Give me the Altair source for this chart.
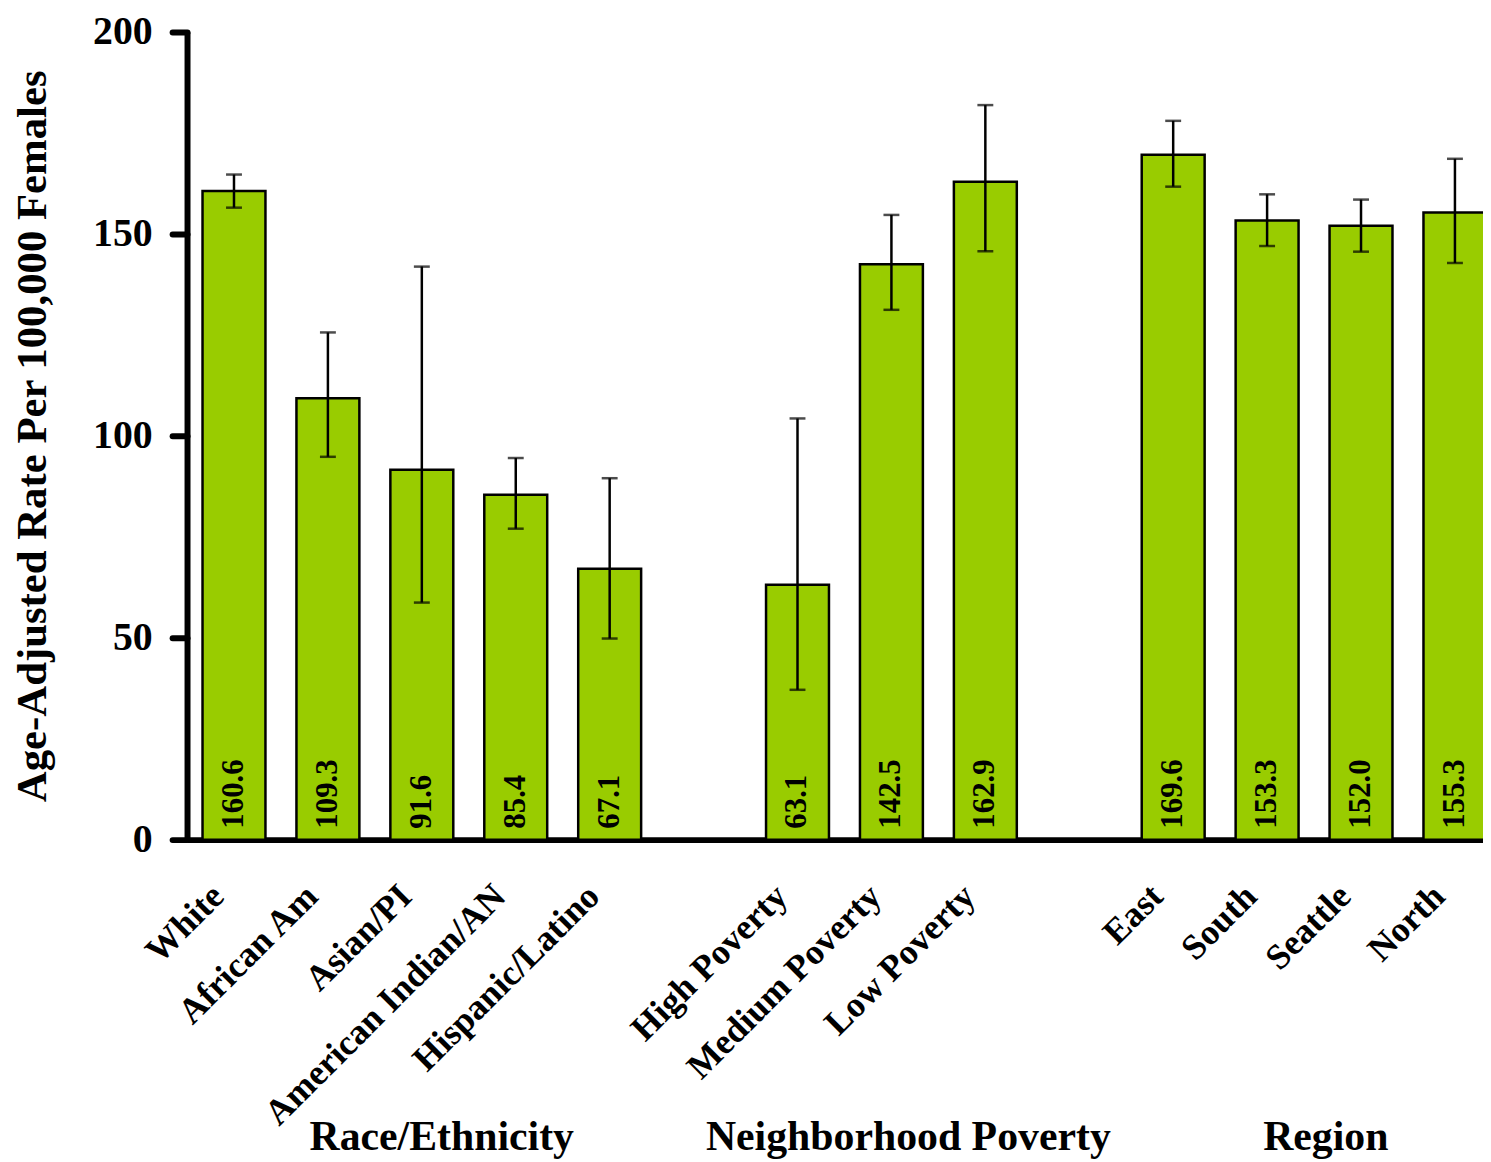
import altair as alt
import pandas as pd

categories = ["White", "African Am", "Asian/PI", "American Indian/AN", "Hispanic/Latino",
              "High Poverty", "Medium Poverty", "Low Poverty",
              "East", "South", "Seattle", "North"]
rates = [160.6, 109.3, 91.6, 85.4, 67.1, 63.1, 142.5, 162.9, 169.6, 153.3, 152.0, 155.3]
ci_low = [156.5, 94.8, 58.7, 77.0, 49.8, 37.1, 131.2, 145.7, 161.7, 147.0, 145.6, 142.8]
ci_high = [164.7, 125.6, 141.9, 94.5, 89.5, 104.3, 154.7, 181.9, 178.0, 159.8, 158.5, 168.6]
rate_labels = ["160.6", "109.3", "91.6", "85.4", "67.1", "63.1", "142.5", "162.9",
               "169.6", "153.3", "152.0", "155.3"]
axis_order = categories[:5] + ["gap1"] + categories[5:8] + ["gap2"] + categories[8:]
y_ticks = [0, 50, 100, 150, 200]
group_titles = ["Race/Ethnicity", "Neighborhood Poverty", "Region"]
group_anchor = ["Asian/PI", "Medium Poverty", "South"]
group_shift = [20, 17, 59]

FONT = "Liberation Serif"

df = pd.DataFrame({"cat": categories, "rate": rates, "lo": ci_low, "hi": ci_high,
                   "label": rate_labels, "zero": [0] * len(categories)})

xscale = alt.Scale(domain=axis_order, range=[0, 1322], paddingInner=0.33, paddingOuter=0.165)
yscale = alt.Scale(domain=[0, 200], nice=False)

x_enc = alt.X("cat:N", scale=xscale, sort=axis_order, title=None,
              axis=alt.Axis(labelAngle=-45, labelAlign="right", labelBaseline="middle",
                            labelFont=FONT, labelFontSize=36, labelFontWeight="bold",
                            labelColor="black", labelPadding=51, labelOffset=-16,
                            ticks=False, domainColor="black", domainWidth=6,
                            labelExpr="indexof(datum.value, 'gap') === 0 ? '' : datum.value",
                            labelOverlap=False, labelLimit=1000))

y_enc = alt.Y("rate:Q", scale=yscale,
              title="Age-Adjusted Rate Per 100,000 Females",
              axis=alt.Axis(values=y_ticks, grid=False, labelFont=FONT, labelFontSize=40,
                            labelFontWeight="bold", labelColor="black", labelPadding=20,
                            tickSize=15, tickWidth=6, tickColor="black", tickCap="round",
                            domainColor="black", domainWidth=6,
                            titleFont=FONT, titleFontSize=43, titleFontWeight="bold",
                            titleColor="black", titlePadding=38))

base = alt.Chart(df)

bars = base.mark_bar(color="#99CC00", stroke="black", strokeWidth=2.5).encode(x=x_enc, y=y_enc)

err = base.mark_rule(color="black", strokeWidth=2.5).encode(
    x=alt.X("cat:N", scale=xscale, sort=axis_order),
    y=alt.Y("lo:Q", scale=yscale), y2="hi:Q")

cap_lo = base.mark_tick(color="black", thickness=2.5, size=16).encode(
    x=alt.X("cat:N", scale=xscale, sort=axis_order), y=alt.Y("lo:Q", scale=yscale))
cap_hi = base.mark_tick(color="black", thickness=2.5, size=16).encode(
    x=alt.X("cat:N", scale=xscale, sort=axis_order), y=alt.Y("hi:Q", scale=yscale))

vals = base.mark_text(angle=270, align="left", baseline="middle", dx=11,
                      font=FONT, fontSize=31, fontWeight="bold", color="black").encode(
    x=alt.X("cat:N", scale=xscale, sort=axis_order),
    y=alt.Y("zero:Q", scale=yscale), text="label:N")

layers = [bars, err, cap_lo, cap_hi, vals]
for t, a, s in zip(group_titles, group_anchor, group_shift):
    gdf = pd.DataFrame({"cat": [a], "title": [t]})
    layers.append(alt.Chart(gdf).mark_text(font=FONT, fontSize=42, fontWeight="bold",
                                           color="black", align="center",
                                           baseline="alphabetic", dx=s).encode(
        x=alt.X("cat:N", scale=xscale, sort=axis_order),
        y=alt.value(1124), text="title:N"))

chart = alt.layer(*layers).properties(
    width=1303, height=812,
    autosize=alt.AutoSizeParams(type="none"),
    padding={"left": 180, "top": 21, "right": 0, "bottom": 321},
).configure(background="white").configure_view(stroke=None)

chart.save("out.html", embed_options={"renderer": "svg", "actions": False})
